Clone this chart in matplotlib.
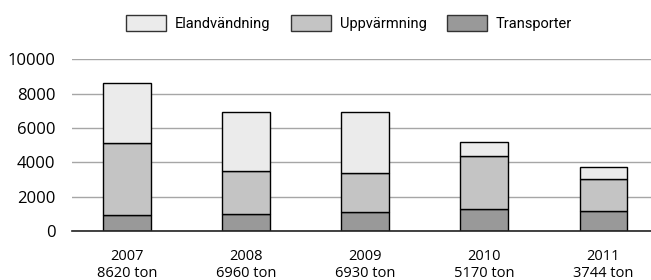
import matplotlib.pyplot as plt
import numpy as np
from matplotlib.patches import Patch

plt.rcParams['font.family'] = ['Open Sans', 'DejaVu Sans']

years = ['2007', '2008', '2009', '2010', '2011']
totals = ['8620 ton', '6960 ton', '6930 ton', '5170 ton', '3744 ton']
transporter = [960, 1010, 1120, 1300, 1160]
uppvarmning = [4140, 2500, 2250, 3050, 1860]
elanvandning = [3520, 3450, 3560, 820, 724]

c_el = '#ebebeb'
c_upp = '#c4c4c4'
c_tr = '#999999'

fig = plt.figure(figsize=(6.51, 2.8), dpi=100)
ax = fig.add_axes([0.111, 0.175, 0.889, 0.613])

x = np.arange(len(years))
w = 0.4
ax.bar(x, transporter, w, color=c_tr, edgecolor='black', linewidth=1, zorder=3)
ax.bar(x, uppvarmning, w, bottom=transporter, color=c_upp, edgecolor='black', linewidth=1, zorder=3)
bottom2 = np.array(transporter) + np.array(uppvarmning)
ax.bar(x, elanvandning, w, bottom=bottom2, color=c_el, edgecolor='black', linewidth=1, zorder=3)

ax.set_ylim(0, 10000)
ax.set_xlim(-0.46, 4.4)
ax.set_yticks(np.arange(0, 10001, 2000))
ax.yaxis.grid(True, color='#a6a6a6', linewidth=1)
ax.set_axisbelow(True)
for s in ['top', 'right', 'left']:
    ax.spines[s].set_visible(False)
ax.spines['bottom'].set_color('#222222')
ax.spines['bottom'].set_linewidth(1.2)
ax.spines['bottom'].set_zorder(4)
ax.tick_params(axis='y', length=0, pad=12, labelsize=12)
ax.tick_params(axis='x', length=0, pad=13, labelsize=10.5)
ax.set_xticks(x)
ax.set_xticklabels([f'{y}\n{t}' for y, t in zip(years, totals)], linespacing=1.2)

handles = [Patch(facecolor=c_el, edgecolor='#333333', label='Elandvändning'),
           Patch(facecolor=c_upp, edgecolor='#333333', label='Uppvärmning'),
           Patch(facecolor=c_tr, edgecolor='#333333', label='Transporter')]
fig.legend(handles=handles, loc='center', bbox_to_anchor=(0.536, 0.918), ncol=3,
           frameon=False, prop={'family': 'Roboto', 'size': 10.5},
           handlelength=2.75, handleheight=1.4, columnspacing=1.4,
           handletextpad=0.6, borderaxespad=0, borderpad=0)

fig.savefig('out.png', dpi=100)
